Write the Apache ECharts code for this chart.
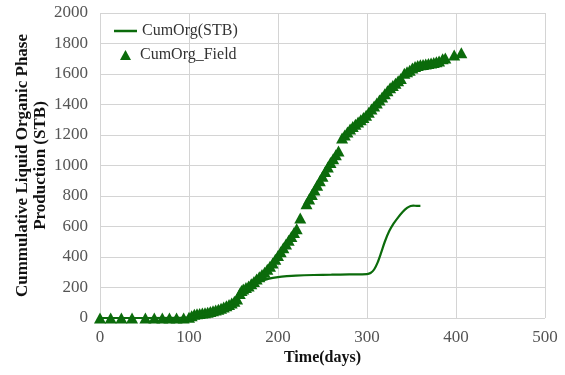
<!DOCTYPE html>
<html><head><meta charset="utf-8">
<script src="https://cdn.jsdelivr.net/npm/echarts@6/dist/echarts.min.js"></script>
<style>html,body{margin:0;padding:0;background:#fff}#c{width:565px;height:375px}</style>
</head><body><div id="c"></div>
<script>
const xTicks = [0, 100, 200, 300, 400, 500];
const yTicks = [0, 200, 400, 600, 800, 1000, 1200, 1400, 1600, 1800, 2000];
const simDays = [0, 50, 100, 110, 120, 130, 140, 150, 160, 170, 180, 190, 200, 210, 220, 240, 260, 280, 300, 304, 308, 312, 316, 320, 325, 330, 335, 340, 345, 349, 352, 356, 360];
const simVals = [0, 0, 2, 15, 30, 48, 70, 105, 155, 205, 240, 258, 268, 274, 278, 282, 284, 286, 288, 295, 318, 365, 430, 500, 570, 620, 660, 695, 722, 735, 737, 735, 735];
const fieldDays = [0,12,24,36,51,61,70,78,86,94,100,103,106,109,112,115,118,121,124,127,130,133,136,139,142,145,148,151,154,157,159,161,164,167,170,173,176,179,182,185,188,191,194,197,200,203,206,209,212,215,218,221,225,232,235,238,241,244,247,250,253,256,259,262,265,268,272,275,278,281,284,287,290,293,296,299,302,305,308,311,314,317,320,323,326,329,332,335,338,342,345,348,351,354,357,360,363,366,369,372,375,378,381,385,388,398,406];
const fieldVals = [0,0,0,0,0,0,0,0,0,0,5,15,25,28,30,32,35,38,42,47,52,58,64,72,80,88,98,110,125,160,180,190,200,210,225,240,255,270,285,300,320,340,360,385,410,435,460,485,510,535,560,585,655,750,780,810,840,870,900,930,960,990,1020,1045,1070,1095,1180,1200,1220,1240,1255,1270,1285,1300,1315,1330,1350,1370,1390,1410,1430,1450,1470,1490,1510,1525,1540,1555,1570,1605,1615,1625,1640,1650,1655,1660,1663,1666,1669,1672,1675,1680,1685,1700,1705,1725,1740];

const green = '#0b6b0b';
const font = '"Liberation Serif", "Times New Roman", serif';
const chart = echarts.init(document.getElementById('c'));
chart.setOption({
  animation: false,
  grid: {left: 100, right: 20, top: 13, bottom: 57},
  xAxis: {
    type: 'value', min: xTicks[0], max: xTicks[xTicks.length-1], interval: 100,
    name: 'Time(days)', nameLocation: 'middle', nameGap: 32, nameMoveOverlap: false,
    nameTextStyle: {fontFamily: font, fontWeight: 'bold', fontSize: 16, color: '#111'},
    axisLine: {show: false}, axisTick: {show: false},
    axisLabel: {fontFamily: font, fontSize: 17, color: '#555', margin: 11, formatter: v => String(v)},
    splitLine: {lineStyle: {color: '#d4d4d4', width: 1}}
  },
  yAxis: {
    type: 'value', min: yTicks[0], max: yTicks[yTicks.length-1], interval: 200,
    name: 'Cummulative Liquid Organic Phase\nProduction (STB)', nameLocation: 'middle', nameGap: 50, nameMoveOverlap: false,
    nameTextStyle: {fontFamily: font, fontWeight: 'bold', fontSize: 17, color: '#111', lineHeight: 18},
    axisLine: {show: false}, axisTick: {show: false},
    axisLabel: {fontFamily: font, fontSize: 17, color: '#555', margin: 12, formatter: v => String(v)},
    splitLine: {lineStyle: {color: '#d4d4d4', width: 1}}
  },
  legend: [
    {data: [{name: 'CumOrg(STB)', icon: 'rect'}], left: 114, top: 23, padding: 0, itemWidth: 23, itemHeight: 2.5,
     textStyle: {fontFamily: font, fontSize: 16, color: '#333'}},
    {data: ['CumOrg_Field'], left: 120, top: 47, padding: 0, itemWidth: 11, itemHeight: 10,
     textStyle: {fontFamily: font, fontSize: 16, color: '#333', padding: [0,0,0,4]}}
  ],
  series: [
    {name: 'CumOrg(STB)', type: 'line', symbol: 'none', smooth: 0.3,
     lineStyle: {color: green, width: 2.2}, itemStyle: {color: green},
     data: simDays.map((d, i) => [d, simVals[i]]), z: 3},
    {name: 'CumOrg_Field', type: 'scatter', symbol: 'triangle', symbolSize: [12, 11],
     itemStyle: {color: green, opacity: 1},
     data: fieldDays.map((d, i) => [d, fieldVals[i]]), z: 2}
  ]
});
</script></body></html>
